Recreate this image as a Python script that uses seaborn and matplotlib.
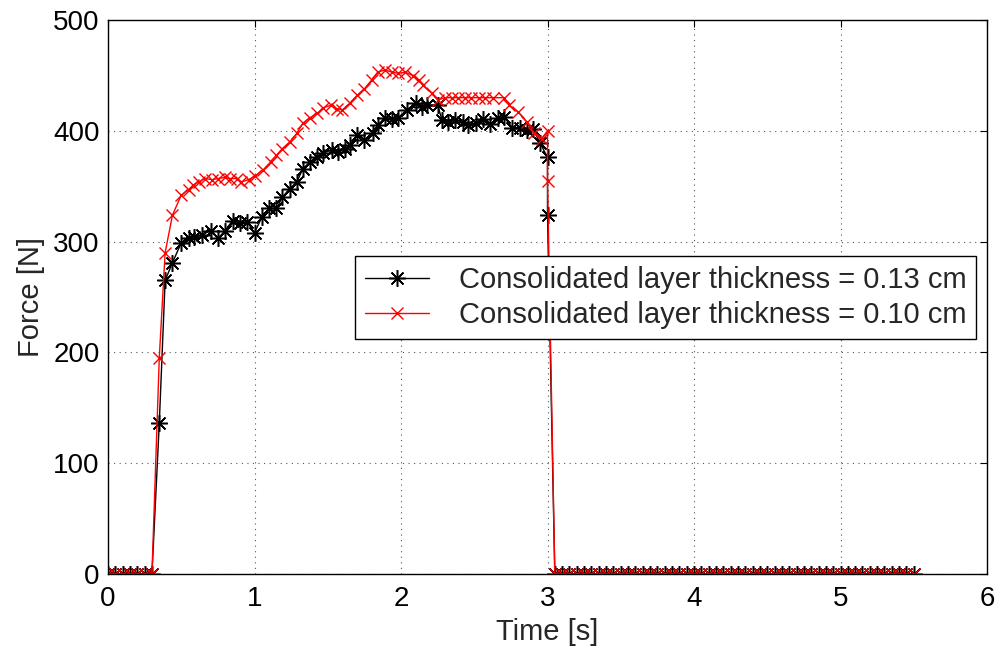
import numpy as np
import pandas as pd
import matplotlib
matplotlib.use('Agg')
import matplotlib.pyplot as plt
import seaborn as sns

# time samples while the force is on
t_black = [0.35, 0.39, 0.44, 0.50, 0.55, 0.59, 0.64, 0.70, 0.75, 0.80,
           0.85, 0.90, 0.95, 1.00, 1.05, 1.10, 1.15, 1.19, 1.24, 1.29,
           1.33, 1.38, 1.43, 1.47, 1.53, 1.57, 1.62, 1.65, 1.70, 1.75,
           1.81, 1.84, 1.89, 1.94, 1.98, 2.04, 2.10, 2.14, 2.18, 2.25,
           2.28, 2.32, 2.37, 2.42, 2.46, 2.51, 2.56, 2.61, 2.66, 2.70,
           2.76, 2.81, 2.86, 2.90, 2.95, 3.00, 3.00]
f_black = [136, 265, 281, 299, 303, 304, 306, 310, 303, 310,
           319, 317, 318, 308, 322, 330, 330, 340, 348, 354,
           366, 372, 376, 380, 383, 381, 384, 387, 396, 392,
           398, 405, 412, 411, 412, 419, 425, 422, 423, 423,
           410, 408, 410, 408, 405, 407, 411, 406, 412, 413,
           403, 403, 401, 402, 389, 376, 324]

t_red = [0.35, 0.39, 0.44, 0.50, 0.55, 0.58, 0.62, 0.66, 0.71, 0.75,
         0.80, 0.83, 0.88, 0.91, 0.96, 1.00, 1.06, 1.11, 1.15, 1.19,
         1.24, 1.29, 1.33, 1.38, 1.43, 1.47, 1.52, 1.56, 1.60, 1.65,
         1.70, 1.75, 1.80, 1.84, 1.89, 1.94, 1.98, 2.03, 2.08, 2.12,
         2.15, 2.21, 2.25, 2.30, 2.35, 2.39, 2.44, 2.48, 2.53, 2.57,
         2.63, 2.70, 2.74, 2.80, 2.86, 2.91, 2.96, 3.00, 3.00]
f_red = [195, 290, 324, 342, 347, 351, 354, 357, 356, 357,
         358, 357, 357, 354, 356, 359, 365, 372, 378, 384,
         390, 398, 407, 412, 416, 421, 423, 420, 419, 425,
         432, 438, 446, 453, 455, 453, 452, 453, 450, 446,
         441, 434, 428, 430, 430, 430, 430, 430, 430, 430,
         430, 430, 423, 417, 408, 398, 393, 400, 355]

# idle samples before and after (force is zero)
t_before = np.round(np.arange(0.0, 0.301, 0.05), 2)
t_after = np.round(np.arange(3.05, 5.501, 0.05), 2)

labels = ['Consolidated layer thickness = 0.13 cm',
          'Consolidated layer thickness = 0.10 cm']


def full_series(t_on, f_on):
    t = np.concatenate([t_before, t_on, t_after])
    f = np.concatenate([np.zeros(len(t_before)), f_on, np.zeros(len(t_after))])
    return pd.DataFrame({'t': t, 'f': f})


df_black = full_series(t_black, f_black)
df_red = full_series(t_red, f_red)

sns.set_style('white')
plt.rcParams['font.family'] = ['Liberation Sans', 'DejaVu Sans']

fig = plt.figure(figsize=(10, 6.5), dpi=100)
ax = fig.add_axes([0.108, 0.117, 0.879, 0.852])

# matlab style asterisk = plus + cross
sns.lineplot(data=df_black, x='t', y='f', color='black', marker=(8, 2, 0),
             markersize=12, markeredgewidth=1.1, markeredgecolor='black',
             linewidth=1.0, estimator=None, sort=False, label=labels[0], ax=ax)
sns.lineplot(data=df_red, x='t', y='f', color='red', marker='x',
             markersize=9, markeredgewidth=1.0, markeredgecolor='red',
             linewidth=1.0, estimator=None, sort=False, label=labels[1], ax=ax)

ax.set_xlim(0, 6)
ax.set_ylim(0, 500)
ax.set_xticks(range(0, 7))
ax.set_yticks(range(0, 501, 100))
ax.set_xlabel('Time [s]', fontsize=21, labelpad=4)
ax.set_ylabel('Force [N]', fontsize=21, labelpad=6)
ax.tick_params(direction='in', length=5, width=0.8, labelsize=20,
               top=True, right=True, colors='black')
ax.tick_params(axis='x', pad=9)
ax.tick_params(axis='y', pad=6)
ax.grid(True, linestyle=(0, (1, 4)), color='#555555', linewidth=0.8)
for s in ax.spines.values():
    s.set_color('black')
    s.set_linewidth(1.0)

leg = ax.legend(loc='upper right', bbox_to_anchor=(0.988, 0.575),
                fancybox=False, framealpha=1, edgecolor='black',
                fontsize=21, handlelength=2.2, borderpad=0.35,
                labelspacing=0.25, handletextpad=1.0, borderaxespad=0)
leg.get_frame().set_linewidth(1.0)

fig.savefig('out.png', dpi=100)
